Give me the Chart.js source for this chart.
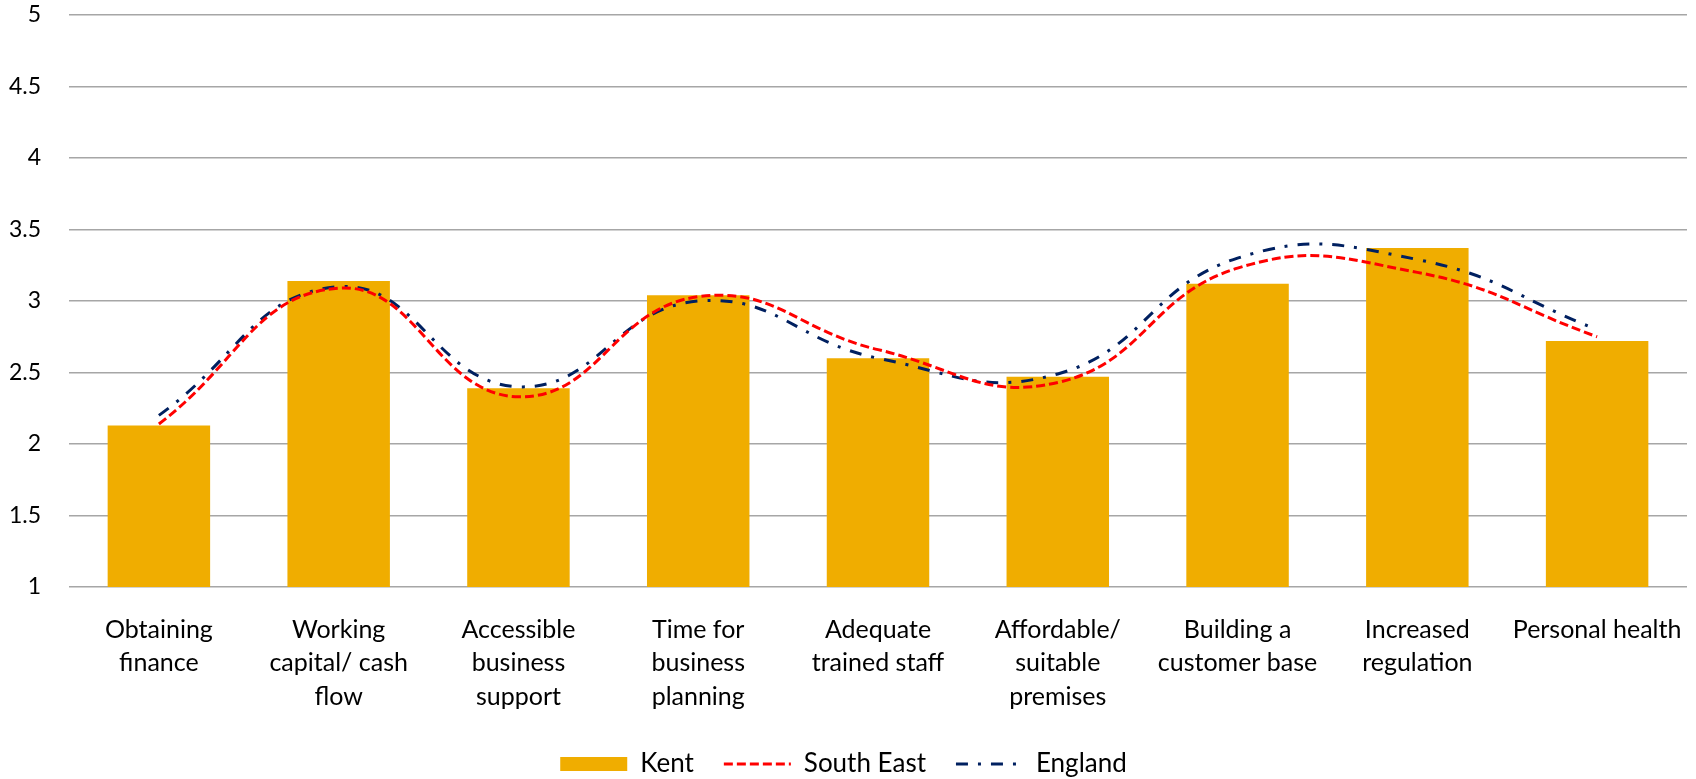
<!DOCTYPE html>
<html>
<head>
<meta charset="utf-8">
<script src="https://cdn.jsdelivr.net/npm/chart.js@4"></script>
<style>
  html, body { margin: 0; padding: 0; background: #fff; }
  #wrap { width: 1696px; height: 779px; position: relative; }
</style>
</head>
<body>
<div id="wrap"><canvas id="myChart"></canvas></div>
<script>
var categories = [
  ['Obtaining', 'finance'],
  ['Working', 'capital/ cash', 'flow'],
  ['Accessible', 'business', 'support'],
  ['Time for', 'business', 'planning'],
  ['Adequate', 'trained staff'],
  ['Affordable/', 'suitable', 'premises'],
  ['Building a', 'customer base'],
  ['Increased', 'regulation'],
  ['Personal health']
];
var kent = [2.13, 3.14, 2.39, 3.04, 2.60, 2.47, 3.12, 3.37, 2.72];
var southEast = [2.14, 3.09, 2.33, 3.03, 2.66, 2.43, 3.23, 3.20, 2.75];
var england = [2.20, 3.10, 2.40, 3.00, 2.60, 2.49, 3.30, 3.29, 2.80];

var fontFamily = 'Lato, "Open Sans", sans-serif';

var ctx = document.getElementById('myChart').getContext('2d');
var chart = new Chart(ctx, {
  type: 'bar',
  data: {
    labels: categories,
    datasets: [{
      type: 'bar',
      label: 'Kent',
      data: kent,
      backgroundColor: '#F0AD00',
      categoryPercentage: 1,
      barPercentage: 0.57,
      order: 1
    }, {
      type: 'line',
      label: 'South East',
      data: southEast,
      borderColor: '#FF0000',
      borderWidth: 3,
      borderDash: [9, 4],
      tension: 0.45,
      pointRadius: 0,
      fill: false,
      order: 0
    }, {
      type: 'line',
      label: 'England',
      data: england,
      borderColor: '#002060',
      borderWidth: 3,
      borderDash: [12, 10, 3, 10],
      tension: 0.45,
      pointRadius: 0,
      fill: false,
      order: 0
    }]
  },
  options: {
    responsive: true,
    maintainAspectRatio: false,
    animation: false,
    layout: { padding: { top: 15, right: 9, left: 0, bottom: -8 } },
    scales: {
      x: {
        grid: { display: false },
        border: { display: false },
        ticks: {
          color: '#000',
          padding: 18,
          maxRotation: 0,
          autoSkip: false,
          font: { family: fontFamily, size: 25, lineHeight: 1.34 }
        },
        // fixed axis height so the plot bottom lands where the original has it
        afterFit: function(scale) { scale.height = 134; scale.paddingLeft = 0; scale.paddingRight = 0; }
      },
      y: {
        min: 1,
        max: 5,
        grid: { color: '#A6A6A6', lineWidth: 1.5, drawTicks: false },
        border: { display: false },
        ticks: {
          stepSize: 0.5,
          color: '#000',
          padding: 28,
          font: { family: fontFamily, size: 23 },
          callback: function(v) { return String(v); }
        },
        afterFit: function(scale) { scale.width = 69; scale.paddingTop = 0; scale.paddingBottom = 0; }
      }
    },
    plugins: {
      tooltip: { enabled: false },
      legend: {
        position: 'bottom',
        labels: {
          color: '#000',
          font: { family: fontFamily, size: 26 },
          usePointStyle: true,
          pointStyleWidth: 67,
          boxHeight: 14,
          padding: 30,
          generateLabels: function(chart) {
            return chart.data.datasets.map(function(ds, i) {
              var isBar = ds.type === 'bar';
              return {
                text: ds.label,
                datasetIndex: i,
                fillStyle: isBar ? ds.backgroundColor : 'rgba(0,0,0,0)',
                strokeStyle: isBar ? ds.backgroundColor : ds.borderColor,
                lineWidth: isBar ? 0 : 3,
                lineDash: ds.borderDash || [],
                pointStyle: isBar ? 'rect' : 'line',
                fontColor: '#000'
              };
            });
          }
        }
      }
    }
  }
});
</script>
</body>
</html>
